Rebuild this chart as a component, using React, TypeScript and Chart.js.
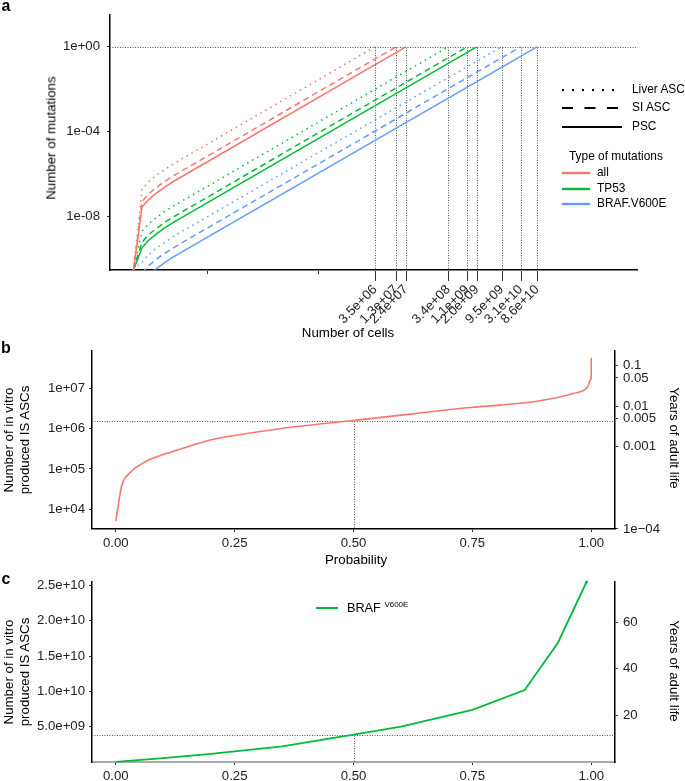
import React, { useEffect, useRef } from 'react';
import { Chart, registerables } from 'chart.js';

Chart.register(...registerables);

const FONT = '"Liberation Sans", Arial, Helvetica, sans-serif';
const RED = '#F8766D';
const GREEN = '#00BA38';
const BLUE = '#619CFF';
const TICK_INK = '#222';

// ---------------- panel a ----------------
const cellGrid = [1, 1.7, 2.5, 4, 7, 12];
const cutoffCells = [3.5e6, 1.3e7, 2.4e7, 3.4e8, 1.1e9, 2.0e9, 9.5e9, 3.1e10, 8.6e10];
const cutoffLabels = ['3.5e+06', '1.3e+07', '2.4e+07', '3.4e+08', '1.1e+09', '2.0e+09', '9.5e+09', '3.1e+10', '8.6e+10'];
const blankCellTicks = [1e2, 1e5];
const mutationTicks = [1e-8, 1e-4, 1];
const mutationTickLabels = ['1e-08', '1e-04', '1e+00'];

const mutAllLiver = [3.2e-11, 2.0e-7, 4.3e-7, 8.6e-7, 1.7e-6, 3.1e-6, 1];
const mutAllSI = [3.2e-11, 5.4e-8, 1.15e-7, 2.3e-7, 4.6e-7, 8.5e-7, 1];
const mutAllPSC = [3.2e-11, 2.9e-8, 6.3e-8, 1.25e-7, 2.5e-7, 4.6e-7, 1];
const mutTP53Liver = [3.2e-11, 2.1e-9, 4.4e-9, 8.8e-9, 1.8e-8, 3.2e-8, 1];
const mutTP53SI = [3.2e-11, 6.4e-10, 1.4e-9, 2.7e-9, 5.5e-9, 1.0e-8, 1];
const mutTP53PSC = [3.2e-11, 3.5e-10, 7.5e-10, 1.5e-9, 3.0e-9, 5.5e-9, 1];
const mutBRAFLiver = [3.2e-11, 7.4e-11, 1.6e-10, 3.2e-10, 6.3e-10, 1.2e-9, 1];
const mutBRAFSI = [null, 2.3e-11, 4.8e-11, 9.7e-11, 1.9e-10, 3.5e-10, 1];
const mutBRAFPSC = [null, 8.1e-12, 1.7e-11, 3.5e-11, 7.0e-11, 1.3e-10, 1];

const cellTypes = ['Liver ASC', 'SI ASC', 'PSC'];
const mutationTypes = ['all', 'TP53', 'BRAF.V600E'];
const mutationColors = [RED, GREEN, BLUE];
const cellDashes = [[1.5, 4.2], [6, 4], []];
const legendDashes = ['2 8', '11 11.5', ''];
const seriesA = [
  [mutAllLiver, mutAllSI, mutAllPSC],
  [mutTP53Liver, mutTP53SI, mutTP53PSC],
  [mutBRAFLiver, mutBRAFSI, mutBRAFPSC],
];

// ---------------- panel b ----------------
const probB = [0, 0.003, 0.012, 0.029, 0.057, 0.086, 0.128, 0.177, 0.21, 0.25, 0.345, 0.5, 0.62, 0.75, 0.808, 0.886, 0.962, 0.992, 1.0, 1.0];
const ascB = [5.1e3, 8.3e3, 3.7e4, 7.9e4, 1.4e5, 2.0e5, 2.9e5, 4.4e5, 5.6e5, 6.8e5, 1.0e6, 1.6e6, 2.3e6, 3.4e6, 3.85e6, 4.8e6, 7.5e6, 1.06e7, 1.75e7, 5.7e7];
const medianB = 1.58e6;
const ascTicksB = [1e4, 1e5, 1e6, 1e7];
const ascTickLabelsB = ['1e+04', '1e+05', '1e+06', '1e+07'];
const yearsTicksB = [0.1, 0.05, 0.01, 0.005, 0.001, 0.0001];
const yearsTickLabelsB = ['0.1', '0.05', '0.01', '0.005', '0.001', '1e\u221204'];
const cellsPerYearB = 3.63e8;

// ---------------- panel c ----------------
const probC = [0, 0.1, 0.2, 0.25, 0.35, 0.5, 0.6, 0.75, 0.86, 0.93, 0.99];
const ascC = [0.02e9, 0.55e9, 1.15e9, 1.5e9, 2.2e9, 3.87e9, 5.0e9, 7.4e9, 1.02e10, 1.69e10, 2.55e10];
const medianC = 3.87e9;
const ascTicksC = [5e9, 1e10, 1.5e10, 2e10, 2.5e10];
const ascTickLabelsC = ['5.0e+09', '1.0e+10', '1.5e+10', '2.0e+10', '2.5e+10'];
const yearsTicksC = [20, 40, 60];
const cellsPerYearC = 3.3e8;

const probTicks = [0, 0.25, 0.5, 0.75, 1];
const probTickLabels = ['0.00', '0.25', '0.50', '0.75', '1.00'];

const tickFont = { family: FONT, size: 13.2 };
const TITLE = 13.3;
const KEY = 11.9;

const fixW = (w: number) => (s: any) => { s.width = w; };
const fixH = (h: number) => (s: any) => { s.height = h; };
const setTicks = (vals: number[]) => (s: any) => { s.ticks = vals.map((v) => ({ value: v })); };

const refLinesA = {
  id: 'refLinesA',
  beforeDatasetsDraw(chart: any) {
    const { ctx, chartArea: a, scales } = chart;
    const y1 = Math.round(scales.y.getPixelForValue(1)) + 0.5;
    ctx.save();
    ctx.strokeStyle = '#555';
    ctx.lineWidth = 1;
    ctx.setLineDash([1, 1.5]);
    ctx.beginPath();
    ctx.moveTo(a.left, y1);
    ctx.lineTo(a.right, y1);
    cutoffCells.forEach((c) => {
      const px = Math.round(scales.x.getPixelForValue(c)) + 0.5;
      ctx.moveTo(px, y1);
      ctx.lineTo(px, a.bottom);
    });
    ctx.stroke();
    ctx.restore();
  },
  afterDraw(chart: any) {
    const { ctx, chartArea: a, scales } = chart;
    ctx.save();
    ctx.strokeStyle = '#333';
    ctx.lineWidth = 1;
    ctx.beginPath();
    cutoffCells.forEach((c) => {
      const px = Math.round(scales.x.getPixelForValue(c)) + 0.5;
      ctx.moveTo(px, a.bottom + 1);
      ctx.lineTo(px, a.bottom + 11);
    });
    blankCellTicks.forEach((c) => {
      const px = Math.round(scales.x.getPixelForValue(c)) + 0.5;
      ctx.moveTo(px, a.bottom + 1);
      ctx.lineTo(px, a.bottom + 4);
    });
    ctx.stroke();
    ctx.restore();
  },
};

const medianLines = (median: number) => ({
  id: 'medianLines',
  beforeDatasetsDraw(chart: any) {
    const { ctx, chartArea: a, scales } = chart;
    const py = Math.round(scales.y.getPixelForValue(median)) + 0.5;
    const px = Math.round(scales.x.getPixelForValue(0.5)) + 0.5;
    ctx.save();
    ctx.strokeStyle = '#555';
    ctx.lineWidth = 1;
    ctx.setLineDash([1, 1.5]);
    ctx.beginPath();
    ctx.moveTo(a.left, py);
    ctx.lineTo(a.right, py);
    ctx.moveTo(px, py);
    ctx.lineTo(px, a.bottom);
    ctx.stroke();
    ctx.restore();
  },
});

function configA(): any {
  const datasets: any[] = [];
  mutationTypes.forEach((mt, m) => {
    cellTypes.forEach((ct, c) => {
      const ys = seriesA[m][c];
      const xs = [...cellGrid, cutoffCells[m * 3 + c]];
      const data = xs.map((x, i) => ({ x, y: ys[i] })).filter((p) => p.y !== null);
      datasets.push({
        label: `${mt} ${ct}`,
        data,
        borderColor: mutationColors[m],
        borderWidth: 1.5,
        borderDash: cellDashes[c],
        pointRadius: 0,
        tension: 0,
        fill: false,
      });
    });
  });
  const xTickVals = [...blankCellTicks, ...cutoffCells];
  const xTickLabels = [...blankCellTicks.map(() => ''), ...cutoffLabels];
  return {
    type: 'line',
    data: { datasets },
    plugins: [refLinesA],
    options: {
      animation: false,
      responsive: false,
      devicePixelRatio: 1,
      layout: { padding: { left: 0, top: 6, right: 48, bottom: 0 } },
      plugins: { legend: { display: false }, tooltip: { enabled: false } },
      scales: {
        x: {
          type: 'logarithmic',
          min: 0.23,
          max: 4.4e13,
          afterBuildTicks: setTicks(xTickVals),
          afterFit: fixH(65),
          grid: { display: true, drawOnChartArea: false, drawTicks: false },
          border: { display: true, color: '#000', width: 1.5 },
          ticks: {
            autoSkip: false,
            minRotation: 45,
            maxRotation: 45,
            padding: 12,
            color: TICK_INK,
            font: tickFont,
            callback: (_v: any, i: number) => xTickLabels[i],
          },
        },
        y: {
          type: 'logarithmic',
          min: 3.16e-11,
          max: 31.6,
          afterBuildTicks: setTicks(mutationTicks),
          afterFit: fixW(110),
          grid: { display: true, drawOnChartArea: false, drawTicks: true, tickLength: 3, tickColor: '#333' },
          border: { display: true, color: '#000', width: 1.5 },
          ticks: { padding: 7, color: TICK_INK, font: tickFont, callback: (_v: any, i: number) => mutationTickLabels[i] },
        },
      },
    },
  };
}

function configB(): any {
  const yMin = 3.24e3;
  const yMax = 8.5e7;
  return {
    type: 'line',
    data: {
      datasets: [
        {
          data: probB.map((p, i) => ({ x: p, y: ascB[i] })),
          borderColor: RED,
          borderWidth: 1.6,
          pointRadius: 0,
          cubicInterpolationMode: 'monotone',
          fill: false,
        },
      ],
    },
    plugins: [medianLines(medianB)],
    options: {
      animation: false,
      responsive: false,
      devicePixelRatio: 1,
      layout: { padding: { left: 0, top: 11, right: 0, bottom: 0 } },
      plugins: { legend: { display: false }, tooltip: { enabled: false } },
      scales: {
        x: {
          type: 'linear',
          min: -0.05,
          max: 1.05,
          afterBuildTicks: setTicks(probTicks),
          afterFit: fixH(26),
          grid: { display: true, drawOnChartArea: false, drawTicks: true, tickLength: 3, tickColor: '#333' },
          border: { display: true, color: '#000', width: 1.5 },
          ticks: { padding: 3, color: TICK_INK, font: tickFont, callback: (_v: any, i: number) => probTickLabels[i] },
        },
        y: {
          type: 'logarithmic',
          position: 'left',
          min: yMin,
          max: yMax,
          afterBuildTicks: setTicks(ascTicksB),
          afterFit: fixW(92),
          grid: { display: true, drawOnChartArea: false, drawTicks: true, tickLength: 3, tickColor: '#333' },
          border: { display: true, color: '#000', width: 1.5 },
          ticks: { padding: 4, color: TICK_INK, font: tickFont, callback: (_v: any, i: number) => ascTickLabelsB[i] },
        },
        y2: {
          type: 'logarithmic',
          position: 'right',
          min: yMin,
          max: yMax,
          afterBuildTicks: (s: any) => {
            s.ticks = yearsTicksB.map((v, i) => ({ value: i === yearsTicksB.length - 1 ? yMin : v * cellsPerYearB }));
          },
          afterFit: fixW(70),
          grid: { display: true, drawOnChartArea: false, drawTicks: true, tickLength: 3, tickColor: '#333' },
          border: { display: true, color: '#000', width: 1.5 },
          ticks: { padding: 5, color: TICK_INK, font: tickFont, callback: (_v: any, i: number) => yearsTickLabelsB[i] },
        },
      },
    },
  };
}

function configC(): any {
  const yMin = 0;
  const yMax = 2.55e10;
  const last = probC.length - 1;
  return {
    type: 'line',
    data: {
      datasets: [
        {
          data: probC.map((p, i) => ({ x: p, y: ascC[i] })),
          borderColor: GREEN,
          backgroundColor: GREEN,
          borderWidth: 1.8,
          pointRadius: (ctx: any) => (ctx.dataIndex === last ? 1.6 : 0),
          pointBorderWidth: 0,
          tension: 0,
          fill: false,
          clip: 4,
        },
      ],
    },
    plugins: [medianLines(medianC)],
    options: {
      animation: false,
      responsive: false,
      devicePixelRatio: 1,
      layout: { padding: { left: 0, top: 16, right: 0, bottom: 0 } },
      plugins: { legend: { display: false }, tooltip: { enabled: false } },
      scales: {
        x: {
          type: 'linear',
          min: -0.05,
          max: 1.05,
          afterBuildTicks: setTicks(probTicks),
          afterFit: fixH(19),
          grid: { display: true, drawOnChartArea: false, drawTicks: true, tickLength: 3, tickColor: '#333' },
          border: { display: true, color: '#aaa', width: 2 },
          ticks: { padding: 3, color: TICK_INK, font: tickFont, callback: (_v: any, i: number) => probTickLabels[i] },
        },
        y: {
          type: 'linear',
          position: 'left',
          min: yMin,
          max: yMax,
          afterBuildTicks: setTicks(ascTicksC),
          afterFit: fixW(92),
          grid: { display: true, drawOnChartArea: false, drawTicks: true, tickLength: 3, tickColor: '#333' },
          border: { display: true, color: '#000', width: 1.5 },
          ticks: { padding: 4, color: TICK_INK, font: tickFont, callback: (_v: any, i: number) => ascTickLabelsC[i] },
        },
        y2: {
          type: 'linear',
          position: 'right',
          min: yMin / cellsPerYearC,
          max: yMax / cellsPerYearC,
          afterBuildTicks: setTicks(yearsTicksC),
          afterFit: fixW(70),
          grid: { display: true, drawOnChartArea: false, drawTicks: true, tickLength: 3, tickColor: '#333' },
          border: { display: true, color: '#000', width: 1.5 },
          ticks: { padding: 5, color: TICK_INK, font: tickFont, callback: (v: any) => String(v) },
        },
      },
    },
  };
}

const Txt = ({ x, y, children, size = TITLE, rot = 0, bold = false, left = false, lh = 1.15 }: any) => (
  <div
    style={{
      position: 'absolute',
      left: x,
      top: y,
      transform: `translate(${left ? '0' : '-50%'}, -50%) rotate(${rot}deg)`,
      transformOrigin: left ? 'left center' : 'center',
      fontSize: size,
      fontWeight: bold ? 'bold' : 'normal',
      whiteSpace: 'nowrap',
      lineHeight: lh,
      textAlign: 'center',
      color: '#000',
    }}
  >
    {children}
  </div>
);

const KeyLine = ({ x1, x2, y, color, dash, width }: any) => (
  <svg
    style={{ position: 'absolute', left: x1, top: y - 3, overflow: 'visible' }}
    width={x2 - x1}
    height={6}
  >
    <line x1={0} y1={3} x2={x2 - x1} y2={3} stroke={color} strokeWidth={width} strokeDasharray={dash || undefined} />
  </svg>
);

export default function App() {
  const refA = useRef<HTMLCanvasElement>(null);
  const refB = useRef<HTMLCanvasElement>(null);
  const refC = useRef<HTMLCanvasElement>(null);

  useEffect(() => {
    const ca = new Chart(refA.current as HTMLCanvasElement, configA());
    const cb = new Chart(refB.current as HTMLCanvasElement, configB());
    const cc = new Chart(refC.current as HTMLCanvasElement, configC());
    return () => {
      ca.destroy();
      cb.destroy();
      cc.destroy();
    };
  }, []);

  const canvasStyle = (top: number, h: number): React.CSSProperties => ({
    position: 'absolute',
    left: 0,
    top,
    width: 685,
    height: h,
  });

  const lineTypeRows = [90, 108, 127];
  const colorRows = [173, 189, 204];

  return (
    <div
      style={{
        position: 'absolute',
        left: 0,
        top: 0,
        width: 685,
        height: 781,
        background: '#fff',
        fontFamily: FONT,
        overflow: 'hidden',
      }}
    >
      <canvas ref={refA} width={685} height={335} style={canvasStyle(0, 335)} />
      <canvas ref={refB} width={685} height={217} style={canvasStyle(338, 217)} />
      <canvas ref={refC} width={685} height={215} style={canvasStyle(566, 215)} />

      {/* panel letters */}
      <Txt x={6} y={6} size={16} bold lh={1}>a</Txt>
      <Txt x={6} y={348} size={16} bold lh={1}>b</Txt>
      <Txt x={6} y={578.5} size={16} bold lh={1}>c</Txt>

      {/* panel a titles */}
      <Txt x={51} y={138} rot={-90}>Number of mutations</Txt>
      <Txt x={348} y={333}>Number of cells</Txt>

      {/* panel a legend */}
      {cellTypes.map((ct, i) => (
        <React.Fragment key={ct}>
          <KeyLine x1={562} x2={622} y={lineTypeRows[i]} color="#000" dash={legendDashes[i]} width={2} />
          <Txt x={632} y={lineTypeRows[i]} size={KEY} left>{ct}</Txt>
        </React.Fragment>
      ))}
      <Txt x={569} y={157} size={KEY} left>Type of mutations</Txt>
      {mutationTypes.map((mt, i) => (
        <React.Fragment key={mt}>
          <KeyLine x1={562} x2={590} y={colorRows[i]} color={mutationColors[i]} width={2.4} />
          <Txt x={597} y={colorRows[i]} size={KEY} left>{mt}</Txt>
        </React.Fragment>
      ))}

      {/* panel b titles */}
      <Txt x={16} y={440} rot={-90} lh="15.5px">
        Number of in vitro
        <br />
        produced IS ASCs
      </Txt>
      <Txt x={674} y={438} rot={90}>Years of adult life</Txt>
      <Txt x={356} y={560}>Probability</Txt>

      {/* panel c titles */}
      <Txt x={16} y={672} rot={-90} lh="15.5px">
        Number of in vitro
        <br />
        produced IS ASCs
      </Txt>
      <Txt x={674} y={671} rot={90}>Years of adult life</Txt>

      {/* panel c legend */}
      <KeyLine x1={316} x2={338} y={608} color={GREEN} width={2} />
      <Txt x={347} y={608} size={12.7} left>
        BRAF{' '}
        <span style={{ fontSize: 8, position: 'relative', top: -5 }}>V600E</span>
      </Txt>
    </div>
  );
}
